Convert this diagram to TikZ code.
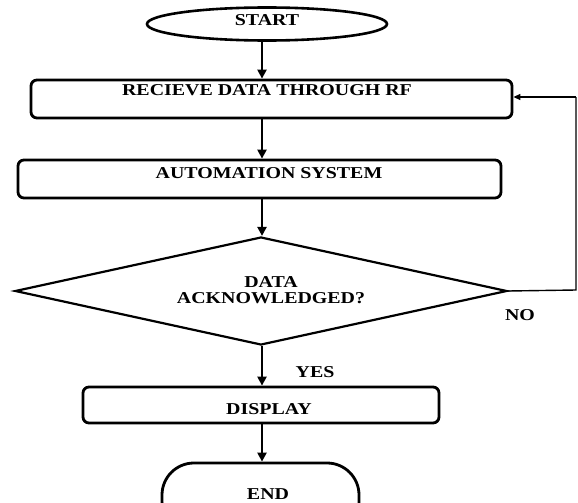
\documentclass[tikz,border=0pt]{standalone}
\usepackage{fontspec}
\newfontfamily\flowfont{Liberation Serif}[FakeStretch=1.2]
\usetikzlibrary{shapes.geometric,arrows.meta}
\begin{document}
\begin{tikzpicture}[x=1pt,y=-1pt,
  every node/.style={font=\flowfont\bfseries\fontsize{16.6}{18}\selectfont},
  procbox/.style={draw,line width=2.8pt,rounded corners=6pt,inner sep=0pt},
  flow/.style={line width=2.8pt,-{Triangle[length=9pt,width=9pt]}},
  back/.style={line width=1.4pt},
  lbl/.style={inner sep=0pt}]
\clip (0,0) rectangle (578,503);
\useasboundingbox (0,0) rectangle (578,503);

% terminals
\node (start) [draw,ellipse,line width=2.6pt,minimum width=240pt,minimum height=33pt,inner sep=0pt] at (267,24) {};
\node [lbl] at (267,20) {START};
\node (stop) [draw,line width=2.8pt,rounded corners=32pt,minimum width=197pt,minimum height=70pt,inner sep=0pt] at (260.5,498) {};
\node [lbl] at (268,494) {END};

% process boxes
\node (rf) [procbox,minimum width=481pt,minimum height=38pt] at (271.5,99) {};
\node [lbl] at (267,90) {RECIEVE DATA THROUGH RF};
\node (auto) [procbox,minimum width=483pt,minimum height=38pt] at (259.5,179) {};
\node [lbl] at (269,173) {AUTOMATION SYSTEM};
\node (disp) [procbox,minimum width=356pt,minimum height=36pt] at (261,405) {};
\node [lbl] at (269,409) {DISPLAY};

% decision
\node (dec) [draw,diamond,line width=2.2pt,minimum width=492pt,minimum height=108pt,inner sep=0pt] at (261,291) {};
\node [lbl,align=center] at (271,290) {DATA\\[-2pt]ACKNOWLEDGED?};

% main spine
\coordinate (spine) at (262,0);
\draw[flow] (start.south -| spine) -- (rf.north -| spine);
\draw[flow] (rf.south -| spine) -- (auto.north -| spine);
\draw[flow] (auto.south -| spine) -- (dec.north -| spine);
\draw[flow] (dec.south -| spine) -- (disp.north -| spine);
\draw[flow] (disp.south -| spine) -- (stop.north -| spine);

% NO branch back to the receiver
\coordinate (fbbot) at (576,290);
\coordinate (fbtop) at (576,97);
\draw[back] (dec.east) -- (fbbot) -- (fbtop);
\draw[back,-{Triangle[length=7pt,width=6pt]}] (fbtop) -- (rf.east |- fbtop);

\node [lbl] at (520,315) {NO};
\node [lbl] at (315,372) {YES};
\end{tikzpicture}
\end{document}
